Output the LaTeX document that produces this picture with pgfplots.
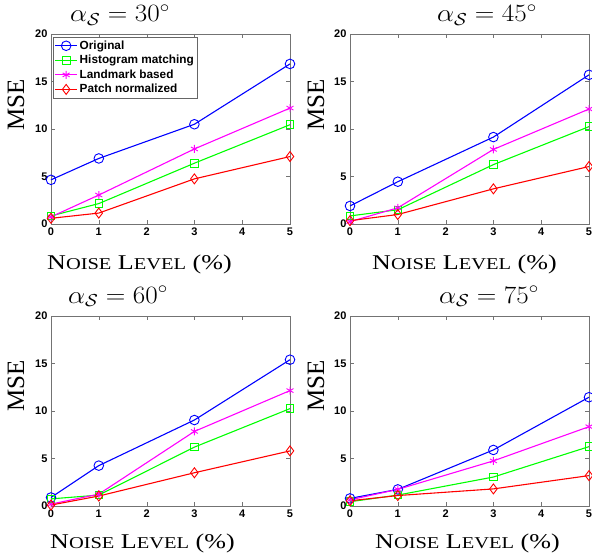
\documentclass[border=0pt]{standalone}
\usepackage{fontspec}
\newfontfamily\hv{Liberation Sans}
\newfontfamily\tm{Liberation Serif}
\usepackage{pgfplots}
\pgfplotsset{compat=1.18}
\definecolor{mgreen}{rgb}{0,1,0}
\definecolor{mmag}{rgb}{1,0,1}

\pgfplotsset{
  mse/.style={
    scale only axis, width=239pt, height=190pt,
    xmin=0, xmax=5, ymin=0, ymax=20,
    xtick={0,...,5}, ytick={0,5,...,20},
    axis line style={black!55},
    tick style={black!55},
    major tick length=4pt,
    tick align=inside,
    ticklabel style={font=\fontsize{11}{11}\selectfont\hv\bfseries},
    /pgf/number format/assume math mode=true,
    clip=false,
    every axis plot/.append style={line width=1.1pt},
  },
  orig/.style={color=blue, mark=o, mark size=4.8pt, mark options={line width=0.9pt}},
  hist/.style={color=mgreen, mark=square, mark size=3.8pt, mark options={line width=0.9pt}},
  land/.style={color=mmag, mark=asterisk, mark size=4pt, mark options={line width=0.9pt}},
  patch/.style={color=red, mark=diamond, mark size=5pt, mark options={line width=0.9pt}},
}

\newcommand{\ttl}[1]{\scalebox{1.09}[1]{\fontsize{26}{26}\selectfont$\alpha_{\mathcal{S}} = #1^\circ$}}
\newcommand{\xl}{\scalebox{1.24}[1]{\tm\fontsize{21}{21}\selectfont N{\fontsize{16.5}{16.5}\selectfont OISE} L{\fontsize{16.5}{16.5}\selectfont EVEL} (\%)}}
\newcommand{\yl}{\tm\fontsize{25}{25}\selectfont MSE}

\begin{document}
\begin{tikzpicture}[x=1pt,y=1pt]
\useasboundingbox (0,0) rectangle (592,558);

% top left: 30 deg
\begin{axis}[mse, at={(51pt,334pt)}, anchor=south west,
  legend style={at={(0.008,0.984)}, anchor=north west, draw=black!60,
    font=\fontsize{11.8}{11.8}\selectfont\hv\bfseries, cells={anchor=west},
    inner sep=1.5pt, row sep=0.5pt},
  legend image code/.code={\draw[mark repeat=2,mark phase=2] plot coordinates {(0pt,0pt) (11pt,0pt) (22pt,0pt)};}]
\addplot[orig] coordinates {(0,4.65) (1,6.9) (3,10.5) (5,16.85)};
\addplot[hist] coordinates {(0,0.85) (1,2.15) (3,6.4) (5,10.45)};
\addplot[land] coordinates {(0,0.75) (1,3.05) (3,7.9) (5,12.2)};
\addplot[patch] coordinates {(0,0.6) (1,1.15) (3,4.75) (5,7.1)};
\legend{Original,Histogram matching,Landmark based,Patch normalized}
\end{axis}

% top right: 45 deg
\begin{axis}[mse, at={(350pt,334pt)}, anchor=south west]
\addplot[orig] coordinates {(0,1.9) (1,4.45) (3,9.15) (5,15.7)};
\addplot[hist] coordinates {(0,0.85) (1,1.5) (3,6.25) (5,10.25)};
\addplot[land] coordinates {(0,0.25) (1,1.7) (3,7.85) (5,12.1)};
\addplot[patch] coordinates {(0,0.35) (1,1.0) (3,3.7) (5,6.05)};
\end{axis}

% bottom left: 60 deg
\begin{axis}[mse, at={(51pt,52pt)}, anchor=south west]
\addplot[orig] coordinates {(0,0.9) (1,4.25) (3,9.05) (5,15.4)};
\addplot[hist] coordinates {(0,0.75) (1,1.15) (3,6.2) (5,10.25)};
\addplot[land] coordinates {(0,0.2) (1,1.25) (3,7.85) (5,12.15)};
\addplot[patch] coordinates {(0,0.1) (1,1.05) (3,3.5) (5,5.8)};
\end{axis}

% bottom right: 75 deg
\begin{axis}[mse, at={(350pt,52pt)}, anchor=south west]
\addplot[orig] coordinates {(0,0.8) (1,1.75) (3,5.9) (5,11.45)};
\addplot[hist] coordinates {(0,0.45) (1,1.15) (3,3.05) (5,6.25)};
\addplot[land] coordinates {(0,0.65) (1,1.75) (3,4.75) (5,8.35)};
\addplot[patch] coordinates {(0,0.55) (1,1.1) (3,1.8) (5,3.2)};
\end{axis}

% titles and labels
\node[anchor=base, inner sep=0pt] at (120pt,536pt) {\ttl{30}};
\node[anchor=base, inner sep=0pt] at (487pt,536pt) {\ttl{45}};
\node[anchor=base, inner sep=0pt] at (118pt,255pt) {\ttl{60}};
\node[anchor=base, inner sep=0pt] at (489pt,255pt) {\ttl{75}};
\node[anchor=base west, inner sep=0pt] at (47pt,289pt) {\xl};
\node[anchor=base west, inner sep=0pt] at (372pt,289pt) {\xl};
\node[anchor=base west, inner sep=0pt] at (50pt,10pt) {\xl};
\node[anchor=base west, inner sep=0pt] at (375pt,10pt) {\xl};
\node[rotate=90, inner sep=0pt] at (16pt,453pt) {\yl};
\node[rotate=90, inner sep=0pt] at (316pt,453pt) {\yl};
\node[rotate=90, inner sep=0pt] at (16pt,172pt) {\yl};
\node[rotate=90, inner sep=0pt] at (316pt,172pt) {\yl};
\end{tikzpicture}
\end{document}
